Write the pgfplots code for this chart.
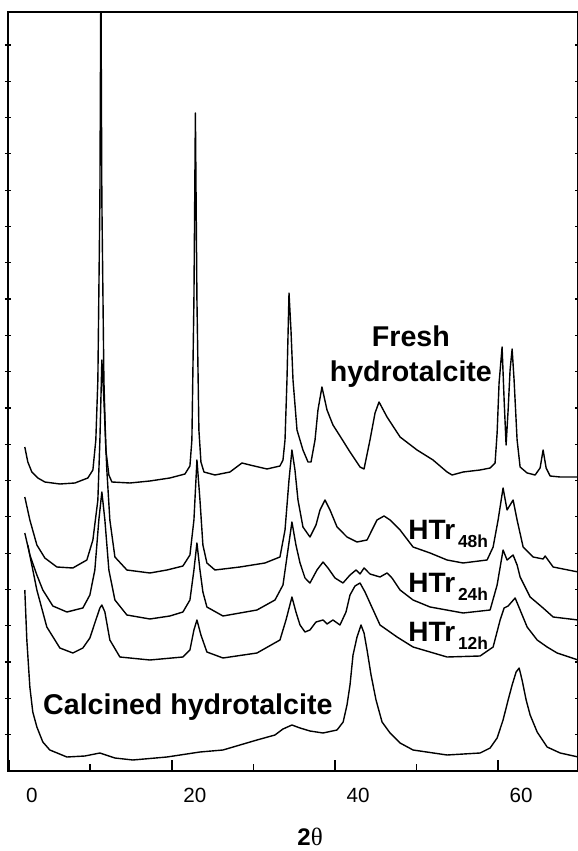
\documentclass[border=0pt]{standalone}
\usepackage{fontspec}
\setmainfont{Liberation Sans}
\newfontfamily\thetafont{Liberation Serif}
\usepackage{pgfplots}
\pgfplotsset{compat=1.18}

% XRD patterns: fresh, reconstructed (HTr) and calcined hydrotalcite
% x: 2theta (deg); y: stacked intensity (a.u., offset per pattern)
\pgfplotstableread{
x y
1.96 324
2.33 309
2.82 299
3.56 293
4.42 289
6.26 287
8.10 288
9.69 293
10.31 301
10.67 331
10.92 391
11.17 571
11.29 800
11.41 571
11.66 391
11.90 321
12.27 296
12.64 289
14.85 288
17.30 290
19.75 293
21.60 297
22.21 305
22.45 331
22.70 471
22.88 658
23.07 471
23.31 341
23.56 309
23.93 299
25.28 296
27.12 299
28.59 308
29.57 306
31.66 302
33.25 305
33.62 311
33.87 331
34.11 391
34.36 478
34.60 441
34.85 391
35.34 341
36.07 321
36.69 309
37.06 309
37.55 331
37.91 361
38.40 384
39.02 361
39.75 346
40.61 335
41.84 319
43.07 304
43.56 302
44.29 331
44.91 358
45.40 369
46.38 354
47.98 334
50.06 321
52.02 311
53.74 299
54.36 296
55.71 299
57.79 301
59.02 303
59.63 308
59.88 338
60.12 388
60.49 424
60.74 371
60.98 326
61.23 361
61.47 401
61.72 422
61.96 391
62.33 331
62.70 304
63.56 298
64.54 296
65.15 303
65.52 321
65.89 303
66.38 295
67.61 294
69.82 294
}\fresh

\pgfplotstableread{
x y
1.96 274
2.58 251
3.44 226
4.42 213
5.89 204
7.85 203
9.57 211
10.31 231
10.92 271
11.17 331
11.41 411
11.66 371
12.02 301
12.39 251
13.01 214
14.48 201
17.30 198
19.39 201
21.35 205
22.21 216
22.70 251
23.07 311
23.44 271
23.80 226
24.29 208
25.28 201
28.34 204
31.41 208
33.25 214
33.87 241
34.36 291
34.72 321
35.09 301
35.46 271
36.07 244
36.93 234
37.67 246
38.16 261
38.77 271
39.39 261
40.25 244
41.47 234
42.70 229
43.93 231
44.54 241
45.15 251
46.01 255
46.75 251
47.98 241
49.57 224
51.66 218
53.74 211
55.71 208
58.65 211
59.39 224
60.00 251
60.61 283
61.10 261
61.47 266
61.84 271
62.33 251
63.07 224
64.29 214
65.52 212
65.77 215
66.75 204
69.82 199
}\htrA

\pgfplotstableread{
x y
1.96 238
2.58 216
3.44 196
4.17 181
5.40 165
7.12 159
9.08 163
9.94 176
10.55 201
11.04 251
11.41 279
11.78 251
12.27 201
13.01 171
14.48 156
17.30 152
19.75 155
21.35 159
22.21 171
22.70 201
23.07 228
23.44 201
23.80 179
24.29 164
26.26 155
30.43 161
32.64 171
33.62 186
34.23 221
34.72 249
35.21 226
35.71 208
36.32 193
36.93 188
37.79 201
38.53 209
39.14 203
40.00 193
40.98 188
41.84 196
42.58 201
43.07 197
43.56 203
44.29 197
45.52 194
46.38 198
46.99 193
47.98 181
49.57 171
51.66 164
55.71 158
59.02 161
59.88 186
60.61 221
61.10 211
61.84 216
62.33 206
62.70 194
63.93 174
65.52 163
66.75 154
69.82 151
}\htrB

\pgfplotstableread{
x y
2.33 226
2.82 206
3.44 181
4.66 144
6.26 123
7.85 118
9.08 123
9.94 133
10.67 151
11.17 163
11.41 166
11.78 159
12.39 131
13.62 114
17.30 111
21.35 114
22.21 121
22.70 141
23.07 151
23.56 136
24.29 119
26.26 113
30.43 118
33.25 131
33.99 151
34.72 174
35.21 159
35.71 146
36.32 139
36.93 141
37.67 149
38.53 151
39.02 147
39.75 151
40.61 146
41.35 159
41.84 176
42.45 185
43.07 188
43.68 179
44.29 168
45.52 146
47.61 134
49.57 124
53.74 114
57.79 115
59.39 124
60.25 151
60.74 163
61.23 165
62.09 173
62.70 161
63.56 144
64.79 131
66.01 124
67.24 118
69.82 111
}\htrC

\pgfplotstableread{
x y
1.96 181
2.21 131
2.58 84
2.94 59
3.44 44
4.17 29
5.03 21
7.12 14
9.33 15
11.17 18
13.01 13
15.21 11
19.39 14
23.44 19
26.26 21
30.43 31
32.64 36
33.62 42
34.72 46
35.71 43
36.93 40
38.53 38
40.25 41
41.00 49
41.47 66
41.84 86
42.21 116
42.70 134
43.19 146
43.56 138
43.93 121
44.42 96
45.03 71
45.77 49
46.75 38
47.98 28
49.57 21
53.74 16
57.79 18
59.02 23
59.88 33
60.61 51
61.23 71
61.72 86
62.21 99
62.58 103
62.94 91
63.44 71
63.93 56
64.79 39
66.01 24
67.61 18
69.82 14
}\calc

\begin{document}
\begin{tikzpicture}
\pgfplotsset{xrdbox/.style={
  scale only axis, width=285pt, height=379.5pt,
  xmin=-0.1, xmax=69.8, ymin=0, ymax=759}}

\begin{axis}[xrdbox,
  axis line style={line width=1pt},
  xtick={0,20,40,60}, minor xtick={10,30,50},
  xtick pos=left, xtick align=inside,
  major tick length=5.5pt, minor tick length=3.5pt,
  tick style={black, line width=0.9pt},
  ytick=\empty,
  /pgf/number format/assume math mode=true,
  xticklabel style={font=\fontsize{10.3}{12}\selectfont, xshift=11.5pt, yshift=-5pt},
  xlabel={\textbf{2}{\thetafont\fontsize{12.5}{14}\selectfont θ}},
  xlabel style={at={(rel axis cs:0.53,0)}, anchor=base, yshift=-37pt,
    font=\fontsize{12}{14}\selectfont},
  xrd/.style={black, no markers, line width=0.7pt, line join=round},
]
\addplot[xrd] table {\fresh};
\addplot[xrd] table {\htrA};
\addplot[xrd] table {\htrB};
\addplot[xrd] table {\htrC};
\addplot[xrd] table {\calc};

\coordinate (sw) at (rel axis cs:0,0);
\coordinate (ne) at (rel axis cs:1,1);

\begin{scope}[every node/.style={inner sep=0pt, font=\bfseries\fontsize{14.3}{16}\selectfont}]
\node[anchor=base] at (axis cs:49.3,424) {Fresh};
\node[anchor=base] at (axis cs:49.3,389) {hydrotalcite};
\node[anchor=base west] at (axis cs:4.17,56) {Calcined hydrotalcite};
\node[anchor=base west, font=\bfseries\fontsize{14}{16}\selectfont] at (axis cs:48.96,231)
  {HTr\raisebox{-4pt}{\fontsize{8.7}{10}\selectfont\,48h}};
\node[anchor=base west, font=\bfseries\fontsize{14}{16}\selectfont] at (axis cs:48.96,178)
  {HTr\raisebox{-4pt}{\fontsize{8.7}{10}\selectfont\,24h}};
\node[anchor=base west, font=\bfseries\fontsize{14}{16}\selectfont] at (axis cs:48.96,129)
  {HTr\raisebox{-4pt}{\fontsize{8.7}{10}\selectfont\,12h}};
\end{scope}
\end{axis}

% short intensity ticks on both vertical sides
\begin{axis}[xrdbox,
  axis line style={draw=none},
  xtick=\empty,
  ytick={36.3,72.6,...,740}, yticklabels={},
  ytick pos=both, ytick align=center,
  major tick length=3pt,
  tick style={black, line width=0.6pt},
]
\end{axis}

\pgfresetboundingbox
\path ([xshift=-4pt,yshift=-40pt]sw) rectangle ([yshift=6pt]ne);
\end{tikzpicture}
\end{document}
